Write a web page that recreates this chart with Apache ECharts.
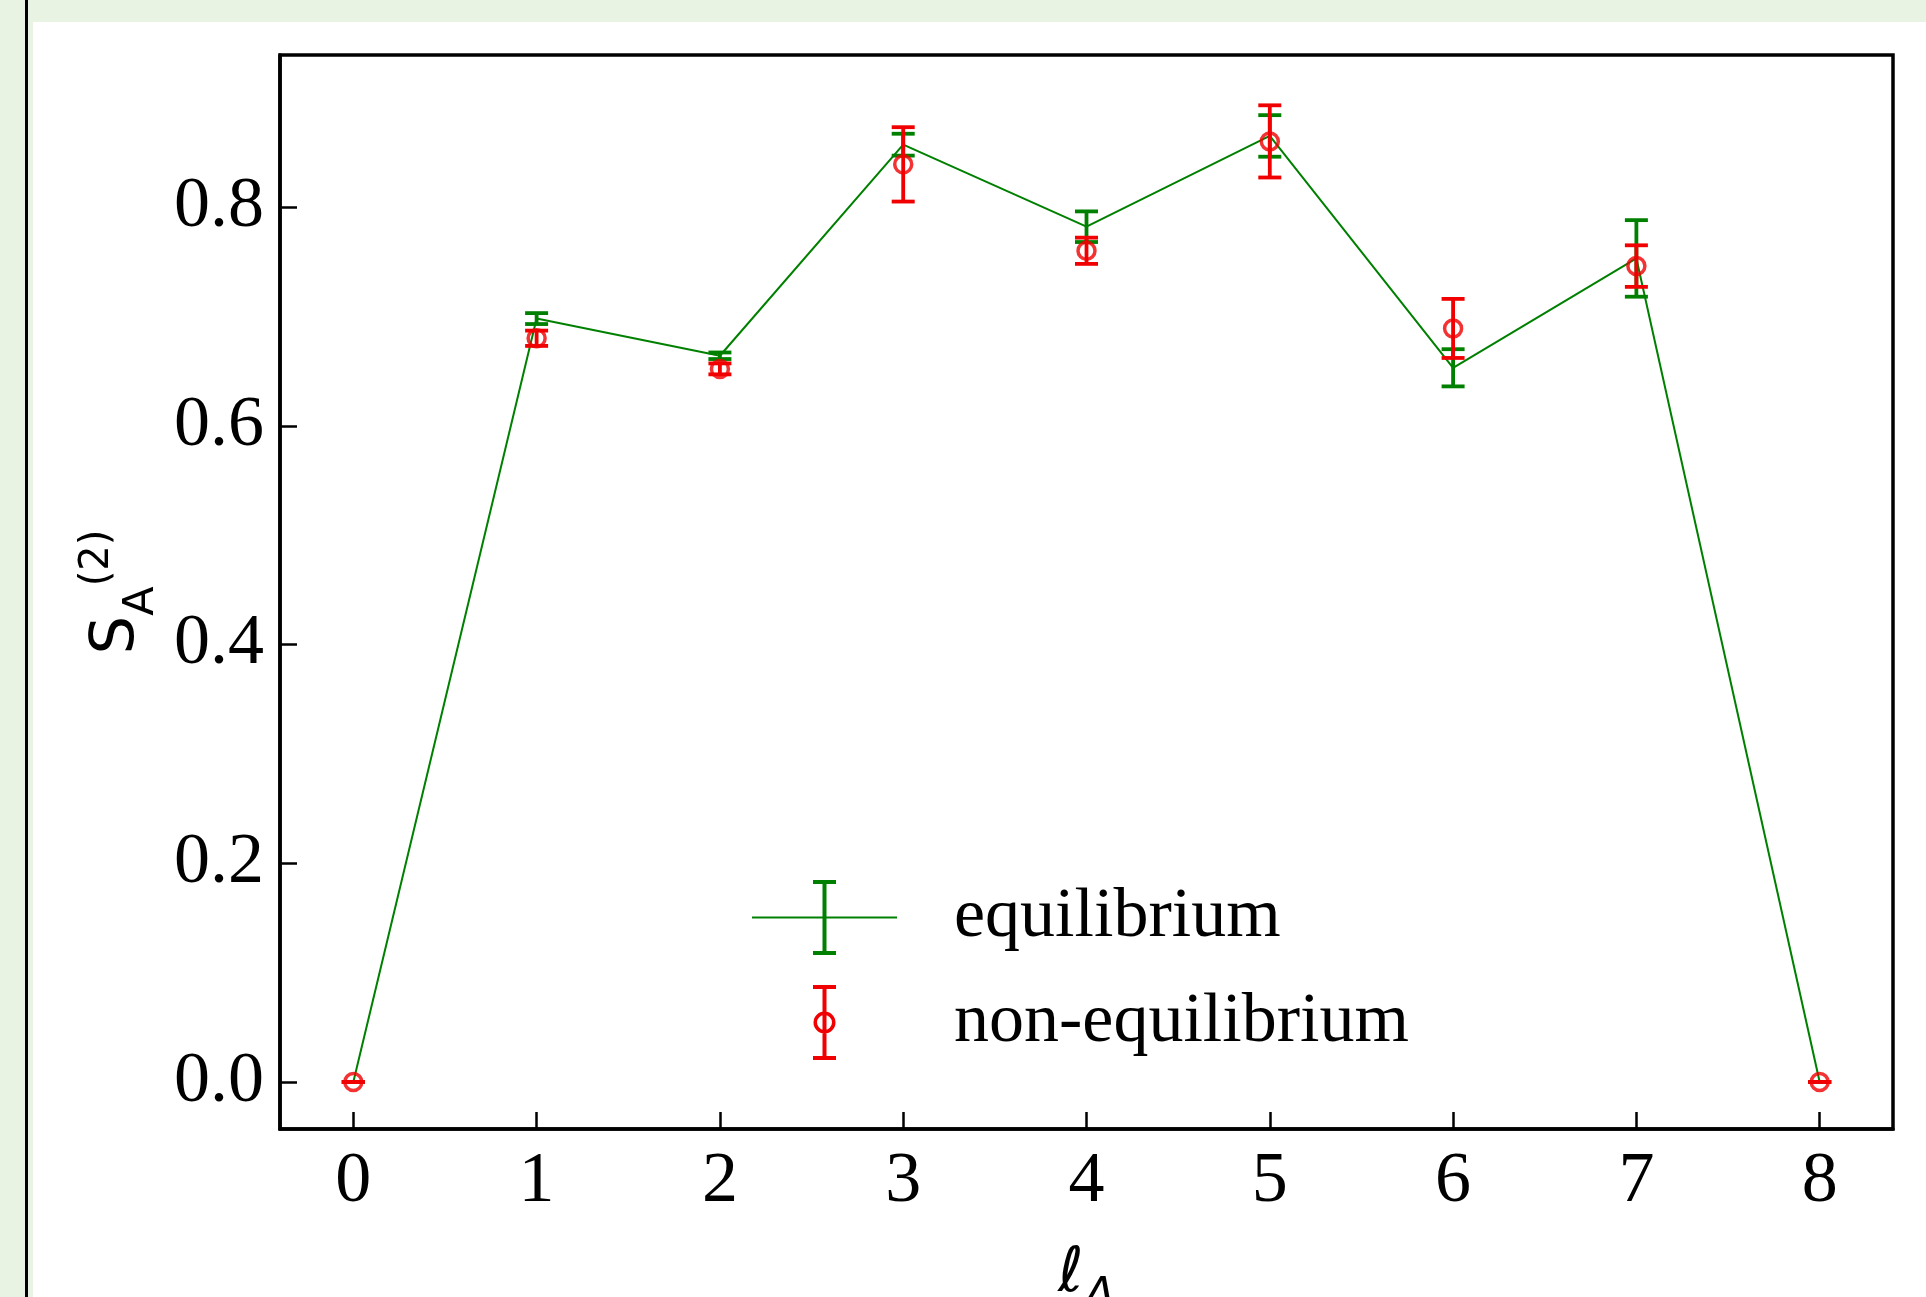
<!DOCTYPE html>
<html>
<head>
<meta charset="utf-8">
<script src="https://cdn.jsdelivr.net/npm/echarts@6/dist/echarts.min.js"></script>
<style>
  html, body { margin: 0; padding: 0; width: 1926px; height: 1297px; overflow: hidden; background: #e8f3e3; }
  #vline { position: absolute; left: 25px; top: 0; width: 3px; height: 1297px; background: #000; }
  #chart { position: absolute; left: 33px; top: 22px; width: 1893px; height: 1275px; background: #fff; }
</style>
</head>
<body>
<div id="vline"></div>
<div id="chart"></div>
<script>
// ---- data ----
const xs = [0, 1, 2, 3, 4, 5, 6, 7, 8];
const eqVal  = [0, 0.698, 0.664, 0.857, 0.782, 0.865, 0.653, 0.753, 0];
const eqErr  = [0, 0.005, 0.003, 0.010, 0.014, 0.019, 0.017, 0.035, 0];
const neqVal = [0, 0.680, 0.652, 0.839, 0.760, 0.860, 0.689, 0.746, 0];
const neqErr = [0, 0.007, 0.005, 0.034, 0.012, 0.033, 0.027, 0.019, 0];
const xTicks = [0, 1, 2, 3, 4, 5, 6, 7, 8];
const yTicks = [0, 0.2, 0.4, 0.6, 0.8];
const seriesNames = ['equilibrium', 'non-equilibrium'];

const GREEN = '#008000';
const RED = '#f00000';

const eqLine = xs.map((x, i) => [x, eqVal[i]]);
const eqBars = xs.map((x, i) => [x, eqVal[i] - eqErr[i], eqVal[i] + eqErr[i]]);
const neqPts = xs.map((x, i) => [x, neqVal[i]]);
const neqBars = xs.map((x, i) => [x, neqVal[i] - neqErr[i], neqVal[i] + neqErr[i]]);

function errRender(color) {
  return function (params, api) {
    const x = api.value(0);
    const lo = api.coord([x, api.value(1)]);
    const hi = api.coord([x, api.value(2)]);
    const cap = 11.5;
    const st = { stroke: color, lineWidth: 3.8 };
    return {
      type: 'group',
      children: [
        { type: 'line', shape: { x1: lo[0], y1: lo[1], x2: hi[0], y2: hi[1] }, style: st },
        { type: 'line', shape: { x1: lo[0] - cap, y1: lo[1], x2: lo[0] + cap, y2: lo[1] }, style: st },
        { type: 'line', shape: { x1: hi[0] - cap, y1: hi[1], x2: hi[0] + cap, y2: hi[1] }, style: st }
      ]
    };
  };
}

// legend icons (filled paths)
const eqIcon = 'path://M0,36.5 L145,36.5 L145,38.5 L0,38.5 Z M70.5,0 L74.5,0 L74.5,75 L70.5,75 Z M61,0 L84,0 L84,4 L61,4 Z M61,71 L84,71 L84,75 L61,75 Z';
const neqIcon = 'path://M0,0 L23,0 L23,4 L0,4 Z M0,71 L23,71 L23,75 L0,75 Z M9.5,0 L13.5,0 L13.5,75 L9.5,75 Z ' +
  'M0.5,37.5 A11,11 0 1,1 22.5,37.5 A11,11 0 1,1 0.5,37.5 Z M4,37.5 A7.5,7.5 0 1,0 19,37.5 A7.5,7.5 0 1,0 4,37.5 Z';

const chart = echarts.init(document.getElementById('chart'), null, { renderer: 'canvas' });
chart.setOption({
  animation: false,
  backgroundColor: '#ffffff',
  grid: {
    left: 247, top: 33, right: 33, bottom: 168,
    outerBoundsMode: 'none', containLabel: false,
    show: true, borderColor: '#000', borderWidth: 3.5, backgroundColor: 'transparent'
  },
  legend: {
    left: 714, top: 853, orient: 'vertical',
    itemWidth: 145, itemHeight: 75, itemGap: 30,
    selectedMode: false,
    formatter: function (name) { return '{t|' + name + '}'; },
    textStyle: {
      fontFamily: 'Liberation Serif', fontSize: 70, color: '#000',
      rich: { t: { fontFamily: 'Liberation Serif', fontSize: 70, color: '#000', padding: [0, 0, 0, 52] } }
    },
    data: [
      { name: seriesNames[0], icon: eqIcon, itemStyle: { color: GREEN, borderWidth: 0 } },
      { name: seriesNames[1], icon: neqIcon, itemStyle: { color: RED, borderWidth: 0 } }
    ]
  },
  xAxis: {
    type: 'value', min: -0.4, max: 8.4,
    name: '{l|ℓ}{sub|A}', nameLocation: 'middle', nameGap: 100,
    nameTextStyle: {
      color: '#000',
      rich: {
        l: { fontFamily: 'DejaVu Sans', fontStyle: 'italic', fontSize: 62, color: '#000' },
        sub: { fontFamily: 'DejaVu Sans', fontStyle: 'italic', fontSize: 46, color: '#000', padding: [46, 0, 0, 0] }
      }
    },
    axisLine: { show: true, onZero: false, lineStyle: { color: '#000', width: 3.5 } },
    axisTick: { show: true, inside: true, length: 17, customValues: xTicks, lineStyle: { color: '#000', width: 2.5 } },
    axisLabel: { customValues: xTicks, fontFamily: 'Liberation Serif', fontSize: 72, color: '#000', margin: 17 },
    splitLine: { show: false }
  },
  yAxis: {
    type: 'value', min: -0.043, max: 0.939,
    name: '{s|S}{sub|A}{sup|(2)}', nameLocation: 'middle', nameGap: 100, nameRotate: 90,
    nameTextStyle: {
      color: '#000',
      rich: {
        s: { fontFamily: 'DejaVu Sans', fontSize: 61, color: '#000' },
        sub: { fontFamily: 'DejaVu Sans', fontSize: 43, color: '#000', padding: [48, 0, 0, 0] },
        sup: { fontFamily: 'DejaVu Sans', fontSize: 40, color: '#000', padding: [0, 0, 40, 0] }
      }
    },
    axisLine: { show: true, onZero: false, lineStyle: { color: '#000', width: 3.5 } },
    axisTick: { show: true, inside: true, length: 17, customValues: yTicks, lineStyle: { color: '#000', width: 2.5 } },
    axisLabel: {
      customValues: yTicks, fontFamily: 'Liberation Serif', fontSize: 72, color: '#000', margin: 16,
      formatter: function (v) { return v.toFixed(1); }
    },
    splitLine: { show: false }
  },
  series: [
    {
      name: seriesNames[0], type: 'line', data: eqLine, symbol: 'none', silent: true, z: 2,
      lineStyle: { color: GREEN, width: 2 }, itemStyle: { color: GREEN }
    },
    {
      name: seriesNames[0], type: 'custom', data: eqBars, renderItem: errRender(GREEN),
      encode: { x: 0, y: [1, 2] }, silent: true, z: 3, itemStyle: { color: GREEN }
    },
    {
      name: seriesNames[1], type: 'custom', data: neqBars, renderItem: errRender(RED),
      encode: { x: 0, y: [1, 2] }, silent: true, z: 4, itemStyle: { color: RED }
    },
    {
      name: seriesNames[1], type: 'scatter', data: neqPts, symbol: 'circle', symbolSize: 17, silent: true, z: 5,
      itemStyle: { color: 'rgba(0,0,0,0)', borderColor: RED, borderWidth: 3.5 }
    }
  ]
});
</script>
</body>
</html>
